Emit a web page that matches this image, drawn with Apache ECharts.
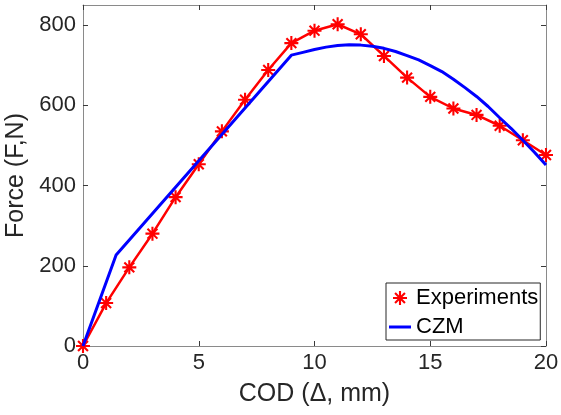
<!DOCTYPE html>
<html>
<head>
<meta charset="utf-8">
<script src="https://cdn.jsdelivr.net/npm/echarts@6/dist/echarts.min.js"></script>
<style>html,body{margin:0;padding:0;background:#fff}#c{width:561px;height:415px}</style>
</head>
<body>
<div id="c"></div>
<script>
const expX = [0,1,2,3,4,5,6,7,8,9,10,11,12,13,14,15,16,17,18,19,20];
const expY = [0,107,196,280,371,453,535,614,688,755,786,802,777,723,669,621,592,576,549,513,476];
const czmX = [0,1.43,9.0,9.5,10,10.5,11,11.5,12,12.5,13,13.5,14,14.5,15,15.5,16,16.5,17,17.5,18,18.5,19,19.5,20];
const czmY = [0,227,725,732,739,745,749,751,750,747,742,734,724,713,699,684,665,644,622,597,569,542,513,483,451];
const xTicks = [0,5,10,15,20];
const yTicks = [0,200,400,600,800];
const seriesNames = ['Experiments','CZM'];

const star = 'path://M0 8.5L20 8.5L20 11.5L0 11.5Z M8.5 0L11.5 0L11.5 20L8.5 20Z M3.99 1.87L18.13 16.01L16.01 18.13L1.87 3.99Z M16.01 1.87L18.13 3.99L3.99 18.13L1.87 16.01Z';
const bar = 'path://M0 0L22 0L22 3L0 3Z';
const font = "'Liberation Sans', Arial, Helvetica, sans-serif";
const txt = '#262626';
const lineC = '#8a8a8a';
const tickC = '#3a3a3a';

const chart = echarts.init(document.getElementById('c'), null, {renderer:'canvas'});
const baseAxis = {
  axisLine:{show:true, onZero:false, lineStyle:{color:lineC, width:1}},
  axisTick:{show:true, inside:true, length:5, lineStyle:{color:tickC, width:1}},
  splitLine:{show:false}
};
chart.setOption({
  animation:false,
  backgroundColor:'#fff',
  grid:{left:83, right:15, top:5, bottom:69, containLabel:false, outerBoundsMode:'none'},
  legend:{
    orient:'vertical', left:386, top:283,
    data:[{name:seriesNames[0], icon:star},{name:seriesNames[1], icon:bar}],
    itemWidth:22, itemHeight:14, itemGap:7,
    padding:[4,2,2,3],
    backgroundColor:'#fff', borderColor:'#262626', borderWidth:1,
    textStyle:{fontFamily:font, fontSize:22, color:'#000', lineHeight:22}
  },
  xAxis:[
    Object.assign({}, baseAxis, {type:'value', min:0, max:20, interval:5, position:'bottom',
      name:'COD (Δ, mm)', nameLocation:'middle', nameGap:36,
      nameTextStyle:{fontFamily:font, fontSize:25, color:txt},
      axisLabel:{show:true, margin:6, fontFamily:font, fontSize:22, color:txt,
        customValues:xTicks}}),
    Object.assign({}, baseAxis, {type:'value', min:0, max:20, interval:5, position:'top',
      axisLabel:{show:false}})
  ],
  yAxis:[
    Object.assign({}, baseAxis, {type:'value', min:0, max:850, interval:200, position:'left',
      name:'Force (F,N)', nameLocation:'middle', nameGap:46,
      nameTextStyle:{fontFamily:font, fontSize:25, color:txt},
      axisLabel:{show:true, margin:7, fontFamily:font, fontSize:22, color:txt,
        customValues:yTicks},
      axisTick:{show:true, inside:true, length:5, lineStyle:{color:tickC}, customValues:yTicks}}),
    Object.assign({}, baseAxis, {type:'value', min:0, max:850, interval:200, position:'right',
      axisLabel:{show:false},
      axisTick:{show:true, inside:true, length:5, lineStyle:{color:tickC}, customValues:yTicks}})
  ],
  series:[
    {name:seriesNames[0], type:'line', xAxisIndex:0, yAxisIndex:0,
      data:expX.map((x,i)=>[x,expY[i]]),
      symbol:star, symbolSize:14, showAllSymbol:true, clip:false,
      lineStyle:{color:'#ff0000', width:2.5},
      itemStyle:{color:'#ff0000'}, z:2},
    {name:seriesNames[1], type:'line', xAxisIndex:0, yAxisIndex:0,
      data:czmX.map((x,i)=>[x,czmY[i]]),
      symbol:'none', smooth:false, clip:false,
      lineStyle:{color:'#0000ff', width:3},
      itemStyle:{color:'#0000ff'}, z:3}
  ]
});
</script>
</body>
</html>
